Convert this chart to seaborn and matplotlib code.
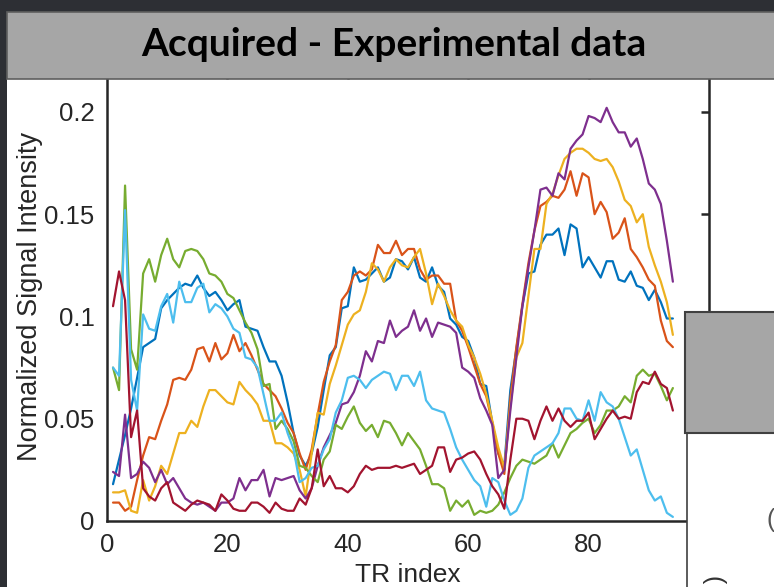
import numpy as np
import pandas as pd
import matplotlib
matplotlib.use("Agg")
import matplotlib.pyplot as plt
import seaborn as sns
from matplotlib.patches import Rectangle
from matplotlib.lines import Line2D

# ---------------- data ----------------
tr_index = list(range(1, 95))

blue = [0.018, 0.030, 0.042, 0.055, 0.070, 0.085, 0.087, 0.089, 0.104, 0.108,
        0.111, 0.114, 0.116, 0.115, 0.120, 0.114, 0.110, 0.112, 0.108, 0.103,
        0.106, 0.108, 0.095, 0.094, 0.093, 0.085, 0.078, 0.078, 0.071, 0.058,
        0.043, 0.032, 0.027, 0.033, 0.046, 0.064, 0.081, 0.085, 0.104, 0.105,
        0.124, 0.117, 0.118, 0.121, 0.124, 0.117, 0.119, 0.128, 0.127, 0.123,
        0.129, 0.119, 0.117, 0.124, 0.115, 0.112, 0.099, 0.096, 0.090, 0.088,
        0.080, 0.067, 0.066, 0.048, 0.033, 0.027, 0.064, 0.084, 0.105, 0.121,
        0.122, 0.135, 0.140, 0.140, 0.143, 0.130, 0.145, 0.143, 0.124, 0.129,
        0.124, 0.119, 0.127, 0.127, 0.118, 0.117, 0.122, 0.115, 0.114, 0.108,
        0.113, 0.107, 0.099, 0.099]

orange = [0.009, 0.009, 0.005, 0.007, 0.020, 0.032, 0.041, 0.040, 0.049, 0.057,
          0.069, 0.070, 0.069, 0.074, 0.084, 0.085, 0.078, 0.087, 0.079, 0.082,
          0.091, 0.083, 0.087, 0.081, 0.074, 0.067, 0.064, 0.061, 0.055, 0.048,
          0.043, 0.033, 0.025, 0.035, 0.052, 0.068, 0.078, 0.086, 0.108, 0.112,
          0.120, 0.122, 0.120, 0.123, 0.135, 0.131, 0.131, 0.137, 0.130, 0.133,
          0.133, 0.123, 0.118, 0.120, 0.120, 0.116, 0.116, 0.098, 0.093, 0.085,
          0.076, 0.067, 0.061, 0.048, 0.033, 0.023, 0.060, 0.085, 0.106, 0.126,
          0.142, 0.154, 0.156, 0.159, 0.158, 0.162, 0.171, 0.159, 0.170, 0.168,
          0.150, 0.156, 0.151, 0.138, 0.141, 0.148, 0.133, 0.129, 0.124, 0.118,
          0.115, 0.098, 0.088, 0.085]

yellow = [0.014, 0.014, 0.015, 0.005, 0.004, 0.020, 0.010, 0.017, 0.027, 0.023,
          0.033, 0.043, 0.043, 0.049, 0.046, 0.056, 0.064, 0.064, 0.061, 0.058,
          0.057, 0.068, 0.064, 0.061, 0.057, 0.049, 0.049, 0.038, 0.038, 0.036,
          0.033, 0.025, 0.012, 0.033, 0.053, 0.052, 0.067, 0.076, 0.086, 0.096,
          0.101, 0.103, 0.112, 0.126, 0.123, 0.117, 0.124, 0.128, 0.125, 0.124,
          0.129, 0.133, 0.121, 0.106, 0.116, 0.110, 0.103, 0.098, 0.095, 0.086,
          0.080, 0.072, 0.062, 0.049, 0.036, 0.026, 0.056, 0.080, 0.087, 0.110,
          0.133, 0.133, 0.155, 0.160, 0.169, 0.177, 0.180, 0.182, 0.182, 0.180,
          0.177, 0.176, 0.177, 0.173, 0.166, 0.157, 0.154, 0.146, 0.150, 0.134,
          0.125, 0.117, 0.107, 0.091]

purple = [0.024, 0.022, 0.052, 0.021, 0.023, 0.029, 0.026, 0.019, 0.025, 0.018,
          0.021, 0.016, 0.011, 0.009, 0.008, 0.009, 0.007, 0.005, 0.009, 0.009,
          0.011, 0.021, 0.015, 0.020, 0.020, 0.025, 0.012, 0.021, 0.020, 0.021,
          0.022, 0.015, 0.011, 0.016, 0.027, 0.036, 0.042, 0.048, 0.057, 0.058,
          0.063, 0.071, 0.083, 0.078, 0.088, 0.087, 0.098, 0.090, 0.093, 0.095,
          0.103, 0.093, 0.099, 0.090, 0.097, 0.096, 0.095, 0.092, 0.075, 0.073,
          0.070, 0.060, 0.054, 0.047, 0.021, 0.025, 0.054, 0.080, 0.105, 0.124,
          0.142, 0.162, 0.163, 0.159, 0.170, 0.167, 0.182, 0.186, 0.189, 0.198,
          0.197, 0.195, 0.202, 0.195, 0.190, 0.190, 0.183, 0.187, 0.177, 0.165,
          0.162, 0.155, 0.137, 0.117]

green = [0.075, 0.064, 0.164, 0.084, 0.074, 0.121, 0.128, 0.117, 0.130, 0.138,
         0.128, 0.124, 0.132, 0.133, 0.132, 0.128, 0.121, 0.120, 0.117, 0.111,
         0.109, 0.103, 0.097, 0.092, 0.084, 0.066, 0.067, 0.045, 0.049, 0.045,
         0.039, 0.027, 0.026, 0.022, 0.019, 0.030, 0.034, 0.047, 0.045, 0.051,
         0.056, 0.048, 0.044, 0.047, 0.041, 0.049, 0.048, 0.043, 0.037, 0.043,
         0.039, 0.035, 0.027, 0.018, 0.018, 0.016, 0.005, 0.010, 0.007, 0.010,
         0.003, 0.005, 0.004, 0.005, 0.008, 0.014, 0.021, 0.027, 0.030, 0.029,
         0.028, 0.030, 0.032, 0.038, 0.031, 0.037, 0.043, 0.045, 0.048, 0.050,
         0.043, 0.047, 0.054, 0.054, 0.056, 0.061, 0.058, 0.071, 0.074, 0.071,
         0.072, 0.066, 0.059, 0.065]

light_blue = [0.075, 0.071, 0.152, 0.069, 0.054, 0.101, 0.094, 0.093, 0.105, 0.111,
              0.097, 0.117, 0.107, 0.107, 0.114, 0.116, 0.102, 0.106, 0.104, 0.100,
              0.094, 0.092, 0.080, 0.079, 0.075, 0.062, 0.049, 0.049, 0.053, 0.043,
              0.035, 0.019, 0.021, 0.026, 0.027, 0.035, 0.040, 0.053, 0.059, 0.070,
              0.071, 0.069, 0.065, 0.069, 0.071, 0.073, 0.072, 0.064, 0.071, 0.071,
              0.066, 0.073, 0.059, 0.055, 0.054, 0.053, 0.045, 0.036, 0.030, 0.025,
              0.020, 0.017, 0.007, 0.021, 0.019, 0.010, 0.003, 0.005, 0.011, 0.026,
              0.032, 0.034, 0.036, 0.038, 0.043, 0.055, 0.055, 0.050, 0.049, 0.059,
              0.049, 0.063, 0.058, 0.056, 0.050, 0.041, 0.032, 0.035, 0.025, 0.015,
              0.010, 0.012, 0.004, 0.002]

dark_red = [0.105, 0.122, 0.108, 0.041, 0.054, 0.016, 0.012, 0.010, 0.016, 0.019,
            0.009, 0.007, 0.005, 0.008, 0.010, 0.009, 0.008, 0.005, 0.013, 0.010,
            0.006, 0.005, 0.005, 0.009, 0.009, 0.007, 0.004, 0.009, 0.006, 0.005,
            0.005, 0.011, 0.008, 0.016, 0.035, 0.017, 0.022, 0.016, 0.016, 0.014,
            0.017, 0.023, 0.027, 0.025, 0.026, 0.026, 0.026, 0.027, 0.026, 0.027,
            0.028, 0.023, 0.025, 0.027, 0.036, 0.036, 0.024, 0.030, 0.031, 0.033,
            0.034, 0.030, 0.023, 0.017, 0.013, 0.006, 0.030, 0.050, 0.050, 0.049,
            0.040, 0.049, 0.056, 0.049, 0.055, 0.049, 0.046, 0.049, 0.049, 0.053,
            0.040, 0.045, 0.050, 0.054, 0.050, 0.051, 0.050, 0.063, 0.068, 0.067,
            0.073, 0.067, 0.065, 0.054]

series_names = ["s1", "s2", "s3", "s4", "s5", "s6", "s7"]
series_values = [blue, orange, yellow, purple, green, light_blue, dark_red]
series_colors = ["#0072BD", "#D95319", "#EDB120", "#7E2F8E",
                 "#77AC30", "#4DBEEE", "#A2142F"]

x_ticks = [0, 20, 40, 60, 80, 100]
y_ticks = [0, 0.05, 0.1, 0.15, 0.2]
y_tick_labels = ["0", "0.05", "0.1", "0.15", "0.2"]

title_text = "Acquired - Experimental data"
x_label = "TR index"
y_label = "Normalized Signal Intensity"

# ---------------- build long table ----------------
frames = []
for name, vals in zip(series_names, series_values):
    frames.append(pd.DataFrame({"TR": tr_index, "value": vals, "series": name}))
df = pd.concat(frames, ignore_index=True)

# ---------------- style ----------------
sns.set_style("white")
plt.rcParams["font.family"] = ["Liberation Sans", "DejaVu Sans"]

W, H = 774, 587
fig = plt.figure(figsize=(W / 100, H / 100), dpi=100)
fig.patch.set_facecolor("white")

def fx(px):
    return px / W

def fy(py):
    return 1 - py / H

ax_left, ax_right, ax_bottom, ax_top = 107, 709, 521, 71
ax = fig.add_axes([fx(ax_left), fy(ax_bottom), (ax_right - ax_left) / W, (ax_bottom - ax_top) / H])

sns.lineplot(data=df, x="TR", y="value", hue="series", hue_order=series_names,
             palette=dict(zip(series_names, series_colors)), linewidth=1.6,
             legend=False, ax=ax, sort=False)

ax.set_xlim(0, 100)
ax.set_ylim(0, 0.22)
ax.set_xticks(x_ticks)
ax.set_xticklabels([str(t) for t in x_ticks])
ax.set_yticks(y_ticks)
ax.set_yticklabels(y_tick_labels)

axis_color = "#262626"
for sp in ax.spines.values():
    sp.set_visible(True)
    sp.set_color(axis_color)
    sp.set_linewidth(1.8)

ax.tick_params(axis="both", direction="in", length=6, width=1.8, colors=axis_color,
               labelsize=18.5, top=True, right=True, labelcolor=axis_color)
ax.tick_params(axis="y", pad=9)
ax.tick_params(axis="x", pad=9)
ax.set_xlabel(x_label, fontsize=19, color=axis_color, labelpad=4)
ax.set_ylabel(y_label, fontsize=19.5, color=axis_color, labelpad=1)
ax.grid(False)

# ---------------- slide decorations ----------------
dark = "#2d2f34"
fig.add_artist(Rectangle((0, fy(12)), 1, 12 / H, transform=fig.transFigure,
                         facecolor=dark, edgecolor="none", zorder=5))
fig.add_artist(Rectangle((0, 0), fx(7), 1, transform=fig.transFigure,
                         facecolor=dark, edgecolor="none", zorder=5))
# title bar
fig.add_artist(Rectangle((fx(7), fy(79)), (W - 7) / W + 0.01, (79 - 12) / H,
                         transform=fig.transFigure, facecolor="#a6a6a6",
                         edgecolor="#5e5e5e", linewidth=1.2, zorder=6))
fig.text(fx(394), fy(45), title_text, ha="center", va="center", fontsize=28,
         fontweight="bold", family=["Lato", "DejaVu Sans"], color="black", zorder=7)

# overlapping panel pieces on the right
fig.add_artist(Rectangle((fx(687), 0), (W - 687) / W + 0.01, (H - 433) / H,
                         transform=fig.transFigure, facecolor="white",
                         edgecolor="none", zorder=5))
fig.add_artist(Line2D([fx(687), fx(687)], [0, fy(433)], transform=fig.transFigure,
                      color="#404040", linewidth=1.2, zorder=6))
fig.add_artist(Rectangle((fx(685), fy(433)), (W - 685) / W + 0.01, (433 - 312) / H,
                         transform=fig.transFigure, facecolor="#a6a6a6",
                         edgecolor="#404040", linewidth=1.5, zorder=6))
fig.text(fx(766), fy(520), "(", ha="left", va="center", fontsize=18,
         color="#555555", zorder=7)
fig.text(fx(713), fy(580), "(", ha="center", va="center", fontsize=18,
         rotation=-90, color="#333333", zorder=7)

fig.savefig("out.png", dpi=100)
